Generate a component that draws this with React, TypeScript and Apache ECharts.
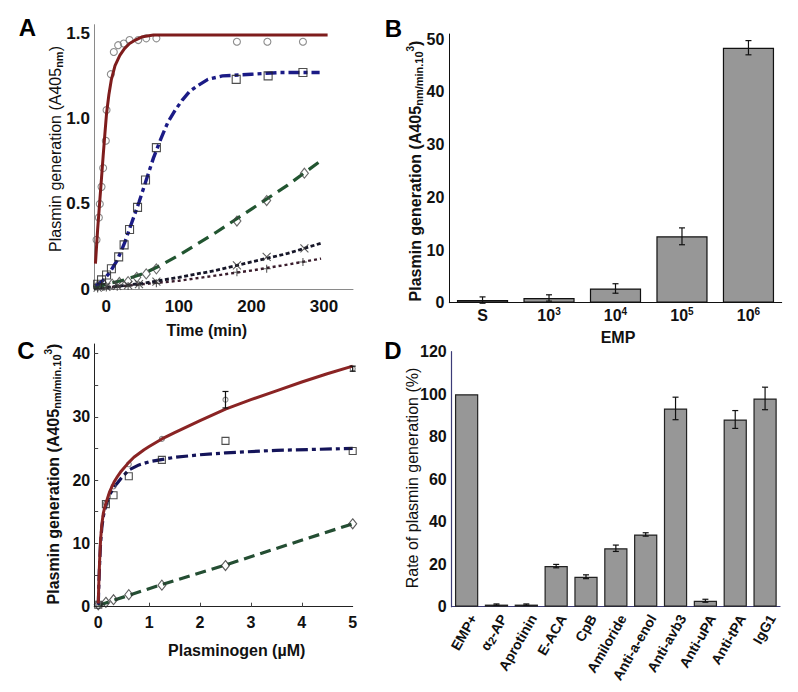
import React, { useEffect, useRef } from "react";
import * as echarts from "echarts";

const FONT = "'Liberation Sans', Arial, Helvetica, sans-serif";

// ---------- Panel A : time course ----------
const aTimeTicks = [0, 100, 200, 300];
const aValueTicks = [0, 0.5, 1.0, 1.5];
const aRedCurve = [[-15, 0.15], [-12, 0.35], [-9, 0.52], [-6.5, 0.66], [-4.4, 0.78], [-2, 0.91], [0.3, 1.03], [3.5, 1.14], [7, 1.23], [12, 1.31], [18.6, 1.37], [25, 1.41], [32, 1.44], [40, 1.46], [50, 1.48], [65, 1.49], [100, 1.49], [200, 1.49], [305, 1.49]];
const aRedPoints = [[-13.5, 0.29], [-10.3, 0.42], [-9, 0.5], [-6.6, 0.6], [-4.4, 0.71], [-0.7, 0.87], [0.3, 1.05], [6.2, 1.26], [10.3, 1.39], [16.3, 1.43], [24, 1.44], [32, 1.46], [44, 1.46], [55, 1.47], [69, 1.47], [180, 1.45], [222, 1.45], [271, 1.45]];
const aBlueCurve = [[-15, 0.02], [-5, 0.05], [5, 0.1], [15, 0.17], [25, 0.27], [35, 0.39], [45, 0.51], [55, 0.64], [65, 0.77], [75, 0.88], [85, 0.98], [95, 1.05], [105, 1.11], [115, 1.16], [125, 1.19], [140, 1.23], [160, 1.25], [200, 1.26], [240, 1.27], [294, 1.27]];
const aBluePoints = [[-12, 0.03], [-6.6, 0.055], [0.3, 0.084], [7, 0.12], [17, 0.19], [24.5, 0.26], [32, 0.35], [43, 0.48], [54, 0.64], [69, 0.83], [179, 1.23], [223, 1.25], [271, 1.27]];
const aGreenCurve = [[-17, 0.01], [0, 0.03], [25, 0.055], [50, 0.09], [75, 0.14], [100, 0.2], [125, 0.265], [150, 0.33], [175, 0.4], [200, 0.47], [250, 0.61], [293, 0.745]];
const aGreenPoints = [[-12, 0.02], [-3, 0.025], [8, 0.03], [18, 0.04], [30, 0.045], [42, 0.07], [55, 0.09], [69, 0.12], [180, 0.4], [221, 0.52], [273, 0.68]];
const aCrossCurve = [[-17, 0.005], [0, 0.01], [50, 0.035], [100, 0.07], [150, 0.11], [200, 0.16], [250, 0.21], [296, 0.27]];
const aCrossPoints = [[-12, 0.01], [0, 0.015], [15, 0.02], [30, 0.025], [45, 0.03], [69, 0.045], [180, 0.14], [221, 0.19], [273, 0.24]];
const aPlusCurve = [[-17, 0.005], [0, 0.01], [50, 0.03], [100, 0.05], [150, 0.08], [200, 0.11], [250, 0.145], [296, 0.18]];
const aPlusPoints = [[-12, 0.005], [0, 0.01], [15, 0.015], [30, 0.02], [45, 0.025], [69, 0.035], [180, 0.1], [221, 0.12], [271, 0.16]];

// ---------- Panel B : EMP dose ----------
const bCategories = ["S", "10{sup|3}", "10{sup|4}", "10{sup|5}", "10{sup|6}"];
const bValues = [0.5, 0.9, 2.7, 12.6, 48.4];
const bErrors = [0.6, 0.6, 0.9, 1.6, 1.35];
const bValueTicks = [0, 10, 20, 30, 40, 50];

// ---------- Panel C : plasminogen ----------
const cXTicks = [0, 1, 2, 3, 4, 5];
const cYTicks = [0, 10, 20, 30, 40];
const cRedCurve = [[0, 0.5], [0.01, 3.5], [0.025, 7], [0.045, 10.5], [0.07, 13], [0.1, 14.8], [0.13, 15.8], [0.16, 16.6], [0.22, 18.1], [0.31, 19.7], [0.38, 20.6], [0.45, 21.4], [0.6, 22.8], [0.7, 23.6], [0.8, 24.2], [0.9, 24.8], [1.0, 25.3], [1.25, 26.5], [1.5, 27.5], [2, 29.4], [2.5, 31.2], [3, 32.7], [3.5, 34.1], [4, 35.5], [4.5, 36.8], [5, 38.0]];
const cRedPoints = [[0, 0.5], [0.15, 16.3], [0.3, 19], [0.6, 22.5], [1.25, 26.5], [2.5, 32.7], [5, 37.6]];
const cRedErrors = [0, 0, 0, 0, 0, 1.3, 0.4];
const cBlueCurve = [[0, 0.3], [0.01, 3], [0.025, 6.5], [0.045, 10], [0.07, 12.5], [0.1, 14.3], [0.13, 15.4], [0.16, 16.2], [0.22, 17.6], [0.31, 18.9], [0.38, 19.6], [0.45, 20.3], [0.6, 21.6], [0.8, 22.4], [1, 22.9], [1.5, 23.6], [2, 24.0], [2.5, 24.3], [3.5, 24.7], [5, 25.0]];
const cBluePoints = [[0, 0.3], [0.15, 16.2], [0.3, 17.6], [0.6, 20.6], [1.25, 23.2], [2.5, 26.2], [5, 24.6]];
const cGreenCurve = [[0, 0.2], [0.3, 1.0], [0.6, 1.8], [1.25, 3.5], [2.5, 6.6], [5, 13.1]];
const cGreenPoints = [[0, 0.3], [0.15, 0.7], [0.3, 1.1], [0.6, 1.9], [1.25, 3.4], [2.5, 6.5], [5, 13.1]];

// ---------- Panel D : inhibitors ----------
const dCategories = ["EMP+", "α{sub|2}-AP", "Aprotinin", "E-ACA", "CpB", "Amiloride", "Anti-a-enol", "Anti-avb3", "Anti-uPA", "Anti-tPA", "IgG1"];
const dValues = [100, 1, 1, 19.1, 14.1, 27.5, 34.0, 93.3, 2.8, 88.1, 98.0];
const dErrors = [0, 0.3, 0.3, 0.8, 0.9, 1.5, 0.8, 5.3, 0.7, 4.2, 5.3];
const dValueTicks = [0, 20, 40, 60, 80, 100, 120];

const subRich = {
  sub: { fontSize: 11, lineHeight: 11, verticalAlign: "bottom", fontWeight: "bold", fontFamily: FONT, color: "#111" },
  sup: { fontSize: 10, lineHeight: 10, verticalAlign: "top", fontWeight: "bold", fontFamily: FONT, color: "#111" },
};

const errRender = (params: any, api: any) => {
  const x = api.value(0);
  const y = api.value(1);
  const e = api.value(2);
  if (!e) return null;
  const top = api.coord([x, y + e]);
  const bot = api.coord([x, y - e]);
  const w = 3;
  const style = { stroke: "#111", lineWidth: 1.2 };
  return {
    type: "group",
    children: [
      { type: "line", shape: { x1: top[0], y1: top[1], x2: bot[0], y2: bot[1] }, style },
      { type: "line", shape: { x1: top[0] - w, y1: top[1], x2: top[0] + w, y2: top[1] }, style },
      { type: "line", shape: { x1: bot[0] - w, y1: bot[1], x2: bot[0] + w, y2: bot[1] }, style },
    ],
  };
};

const tickLabel = (size: number, extra: any = {}) => ({
  fontSize: size,
  fontWeight: "bold",
  fontFamily: FONT,
  color: "#111",
  ...extra,
});

const lineSeries = (data: number[][], idx: number, color: string, width: number, type: any, z = 2) => ({
  type: "line",
  xAxisIndex: idx,
  yAxisIndex: idx,
  data,
  smooth: false,
  symbol: "none",
  lineStyle: { color, width, type, join: "round", cap: "butt" },
  z,
  silent: true,
});

const scatterSeries = (data: number[][], idx: number, symbol: string, size: any, border: string, bw = 1.1) => ({
  type: "scatter",
  xAxisIndex: idx,
  yAxisIndex: idx,
  data,
  symbol,
  symbolSize: size,
  itemStyle: { color: "rgba(255,255,255,0)", borderColor: border, borderWidth: bw },
  z: 3,
  silent: true,
});

const CROSS = "path://M0,0L10,10M10,0L0,10";
const PLUS = "path://M5,0L5,10M0,5L10,5";

const nameText = (text: string, x: number, y: number, size: number, rotate: boolean, weight = "bold") => ({
  type: "text",
  x,
  y,
  rotation: rotate ? Math.PI / 2 : 0,
  style: {
    text,
    fontSize: size,
    fontWeight: weight,
    fontFamily: FONT,
    fill: "#111",
    align: "center",
    verticalAlign: "middle",
    lineHeight: 19,
    rich: subRich,
  },
});

const letter = (t: string, x: number, y: number) => ({
  type: "text",
  x,
  y,
  style: { text: t, fontSize: 24, fontWeight: "bold", fontFamily: FONT, fill: "#000", align: "center", verticalAlign: "middle" },
});

export default function App() {
  const ref = useRef<HTMLDivElement>(null);
  useEffect(() => {
    document.body.style.margin = "0";
    const chart = echarts.init(ref.current as HTMLDivElement, null, { renderer: "svg" });
    const option: any = {
      animation: false,
      backgroundColor: "#fff",
      grid: [
        { left: 94, top: 24.7, width: 259, height: 264.6 },
        { left: 449.3, top: 34, width: 332.4, height: 268.7 },
        { left: 94.2, top: 344, width: 258.5, height: 262.7 },
        { left: 451.7, top: 351.7, width: 328.3, height: 255 },
      ],
      xAxis: [
        {
          type: "value", gridIndex: 0, min: -17, max: 340,
          axisLine: { show: true, onZero: false, lineStyle: { color: "#8a8a8a", width: 1 } },
          axisTick: { show: false }, splitLine: { show: false },
          axisLabel: { customValues: aTimeTicks, margin: 9, ...tickLabel(17) },
        },
        {
          type: "category", gridIndex: 1, data: bCategories, boundaryGap: true,
          axisLine: { show: true, onZero: false, lineStyle: { color: "#111", width: 1 } },
          axisTick: { show: false }, splitLine: { show: false },
          axisLabel: { interval: 0, margin: 4, ...tickLabel(16), lineHeight: 18, rich: subRich },
        },
        {
          type: "value", gridIndex: 2, min: -0.08, max: 5,
          axisLine: { show: true, onZero: false, lineStyle: { color: "#222", width: 1 } },
          axisTick: { show: true, inside: true, length: 4, customValues: [1, 2, 3, 4], lineStyle: { color: "#444" } },
          splitLine: { show: false },
          axisLabel: { customValues: cXTicks, margin: 8, ...tickLabel(16) },
        },
        {
          type: "category", gridIndex: 3, data: dCategories, boundaryGap: true,
          axisLine: { show: true, onZero: false, lineStyle: { color: "#3c3c78", width: 1.2 } },
          axisTick: { show: false }, splitLine: { show: false },
          axisLabel: { interval: 0, rotate: 60, margin: 5, verticalAlign: "top", ...tickLabel(14), lineHeight: 16, rich: subRich },
        },
      ],
      yAxis: [
        {
          type: "value", gridIndex: 0, min: 0, max: 1.55,
          axisLine: { show: true, onZero: false, lineStyle: { color: "#8a8a8a", width: 1 } },
          axisTick: { show: false }, splitLine: { show: false },
          axisLabel: { customValues: aValueTicks, margin: 4, ...tickLabel(17), formatter: (v: number) => (v === 0 ? "0" : v.toFixed(1)) },
        },
        {
          type: "value", gridIndex: 1, min: 0, max: 51,
          axisLine: { show: true, onZero: false, lineStyle: { color: "#111", width: 1 } },
          axisTick: { show: false }, splitLine: { show: false },
          axisLabel: { customValues: bValueTicks, margin: 5, ...tickLabel(16) },
        },
        {
          type: "value", gridIndex: 2, min: 0, max: 41.5,
          axisLine: { show: true, onZero: false, lineStyle: { color: "#222", width: 1 } },
          axisTick: { show: true, inside: true, length: 4, customValues: [5, 10, 15, 20, 25, 30, 35, 40], lineStyle: { color: "#444" } },
          splitLine: { show: false },
          axisLabel: { customValues: cYTicks, margin: 4, ...tickLabel(16) },
        },
        {
          type: "value", gridIndex: 3, min: 0, max: 120,
          axisLine: { show: true, onZero: false, lineStyle: { color: "#3c3c78", width: 1.2 } },
          axisTick: { show: false }, splitLine: { show: false },
          axisLabel: { customValues: dValueTicks, margin: 5, ...tickLabel(16) },
        },
      ],
      series: [
        // Panel A
        lineSeries(aPlusCurve, 0, "#3a1c2c", 2.4, [3, 3]),
        lineSeries(aCrossCurve, 0, "#161628", 2.8, [4, 2.5]),
        lineSeries(aGreenCurve, 0, "#215530", 3.2, [12, 7]),
        lineSeries(aBlueCurve, 0, "#1b1b86", 3.4, [11, 4, 4, 4]),
        scatterSeries(aPlusPoints, 0, PLUS, 8, "#333"),
        scatterSeries(aCrossPoints, 0, CROSS, 8, "#333"),
        scatterSeries(aGreenPoints, 0, "diamond", [8, 10], "#444"),
        scatterSeries(aBluePoints, 0, "rect", 8, "#222"),
        scatterSeries(aRedPoints, 0, "circle", 7, "#6e6e6e"),
        lineSeries(aRedCurve, 0, "#7e1c1c", 3, "solid", 4),
        // Panel B
        {
          type: "bar", xAxisIndex: 1, yAxisIndex: 1, data: bValues, barCategoryGap: "23%",
          itemStyle: { color: "#979797", borderColor: "#111", borderWidth: 1.2 }, silent: true,
        },
        {
          type: "custom", xAxisIndex: 1, yAxisIndex: 1, renderItem: errRender, encode: { x: 0, y: 1 }, z: 5,
          data: bValues.map((v, i) => [i, v, bErrors[i]]), silent: true,
        },
        // Panel C
        lineSeries(cGreenCurve, 2, "#244e33", 3.2, [11, 6]),
        scatterSeries(cGreenPoints, 2, "diamond", [8, 10], "#333"),
        lineSeries(cBlueCurve, 2, "#14145a", 3.2, [12, 4, 4, 4]),
        scatterSeries(cBluePoints, 2, "rect", 7, "#222"),
        scatterSeries(cRedPoints, 2, "circle", 5, "#666"),
        lineSeries(cRedCurve, 2, "#8a2424", 3, "solid", 4),
        {
          type: "custom", xAxisIndex: 2, yAxisIndex: 2, renderItem: errRender, encode: { x: 0, y: 1 }, z: 5,
          data: cRedPoints.map((p, i) => [p[0], p[1], cRedErrors[i]]), silent: true,
        },
        // Panel D
        {
          type: "bar", xAxisIndex: 3, yAxisIndex: 3, data: dValues, barCategoryGap: "22%",
          itemStyle: { color: "#979797", borderColor: "#222", borderWidth: 1.2 }, silent: true,
        },
        {
          type: "custom", xAxisIndex: 3, yAxisIndex: 3, renderItem: errRender, encode: { x: 0, y: 1 }, z: 5,
          data: dValues.map((v, i) => [i, v, dErrors[i]]), silent: true,
        },
      ],
      graphic: [
        letter("A", 27.5, 27), letter("B", 393.5, 28), letter("C", 26, 350), letter("D", 393, 350),
        nameText("Plasmin generation (A405{sub|nm})", 55, 149, 16, true, "normal"),
        nameText("Time (min)", 206.7, 330, 16, false),
        nameText("Plasmin generation (A405{sub|nm/min.10}{sup|3})", 415, 171, 16, true),
        nameText("EMP", 618, 337, 16, false),
        nameText("Plasmin generation (A405{sub|nm/min.10}{sup|3})", 53, 474, 16, true),
        nameText("Plasminogen (µM)", 236.7, 650, 16, false),
        nameText("Rate of plasmin generation (%)", 412.3, 478, 16, true, "normal"),
      ],
    };
    chart.setOption(option);
    return () => chart.dispose();
  }, []);
  return <div ref={ref} style={{ width: 798, height: 692, background: "#fff" }} />;
}
